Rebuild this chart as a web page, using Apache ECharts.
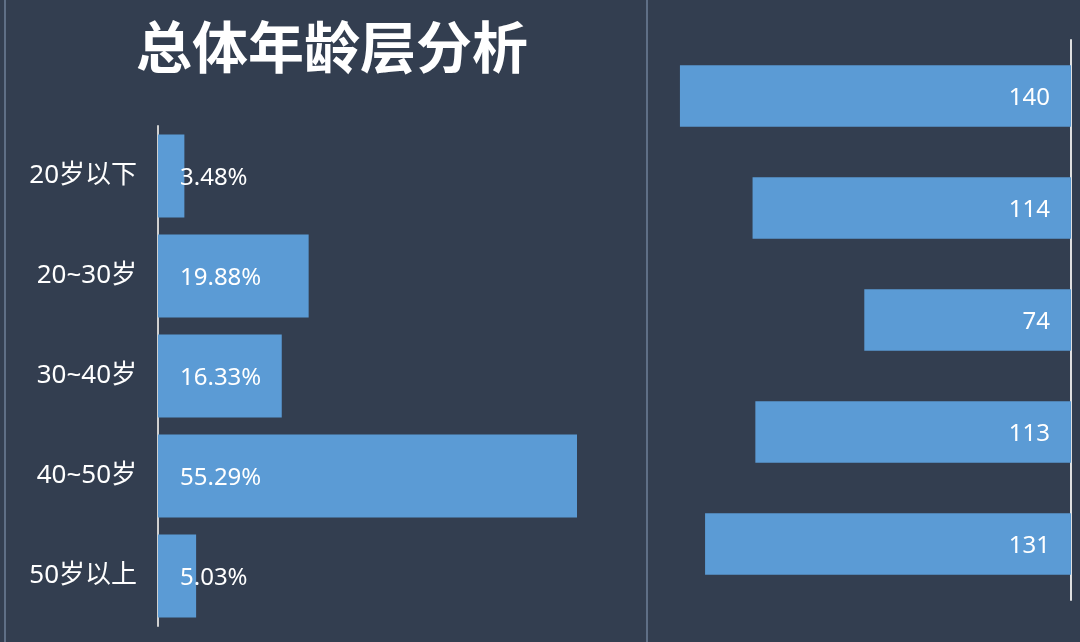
<!DOCTYPE html>
<html>
<head>
<meta charset="utf-8">
<script src="https://cdn.jsdelivr.net/npm/echarts@6/dist/echarts.min.js"></script>
<style>
html,body{margin:0;padding:0;background:#333e50;}
#c{width:1080px;height:642px;}
</style>
</head>
<body>
<div id="c"></div>
<script>
const categories = ['20岁以下', '20~30岁', '30~40岁', '40~50岁', '50岁以上'];
const percentValues = [3.48, 19.88, 16.33, 55.29, 5.03];
const countValues = [140, 114, 74, 113, 131];
const titleText = '总体年龄层分析';

const FONT = '"Noto Sans", "Noto Sans CJK SC", sans-serif';
const chart = echarts.init(document.getElementById('c'));
chart.setOption({
  backgroundColor: '#333e50',
  animation: false,
  title: {
    text: titleText,
    left: 327, top: 14, textAlign: 'center',
    textStyle: { color: '#ffffff', fontSize: 56, fontWeight: 'bold', fontFamily: '"Noto Sans CJK SC", sans-serif' }
  },
  graphic: [
    { type: 'line', shape: { x1: 5, y1: 0, x2: 5, y2: 642 }, style: { stroke: '#5f6f86', lineWidth: 2 } },
    { type: 'line', shape: { x1: 647, y1: 0, x2: 647, y2: 642 }, style: { stroke: '#5f6f86', lineWidth: 2 } }
  ],
  grid: [
    { left: 158, top: 126, width: 454.7, height: 500 },
    { left: 652, top: 40, width: 419, height: 560 }
  ],
  xAxis: [
    { gridIndex: 0, type: 'value', min: 0, max: 60, show: false },
    { gridIndex: 1, type: 'value', min: 0, max: 150, inverse: true, show: false }
  ],
  yAxis: [
    {
      gridIndex: 0, type: 'category', data: categories, inverse: true,
      axisLine: { show: true, lineStyle: { color: '#d0d0d0', width: 2 } },
      axisTick: { show: false },
      axisLabel: { color: '#ffffff', fontSize: 26, fontFamily: FONT, margin: 21, padding: [4, 0, 0, 0] }
    },
    {
      gridIndex: 1, type: 'category', data: categories, inverse: true, position: 'right',
      axisLine: { show: true, lineStyle: { color: '#e0e0e0', width: 2 } },
      axisTick: { show: false },
      axisLabel: { show: false }
    }
  ],
  series: [
    {
      type: 'bar', xAxisIndex: 0, yAxisIndex: 0, data: percentValues, barWidth: '83%',
      itemStyle: { color: '#5b9bd5' },
      label: {
        show: true, position: 'insideLeft', distance: 22, offset: [0, 2], color: '#ffffff', fontSize: 24, fontFamily: FONT,
        formatter: p => p.value.toFixed(2) + '%'
      }
    },
    {
      type: 'bar', xAxisIndex: 1, yAxisIndex: 1, data: countValues, barWidth: '55%',
      itemStyle: { color: '#5b9bd5' },
      label: {
        show: true, position: 'insideRight', distance: 21, offset: [0, 2], color: '#ffffff', fontSize: 24, fontFamily: FONT
      }
    }
  ]
});
</script>
</body>
</html>
